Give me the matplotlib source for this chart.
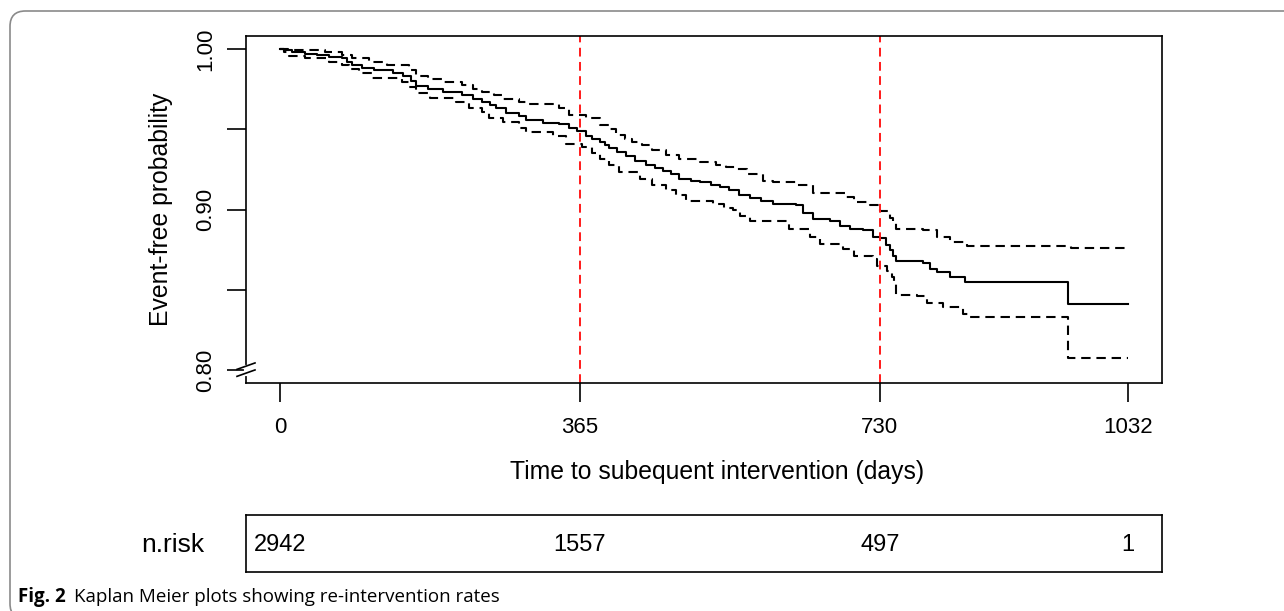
import matplotlib
matplotlib.use("Agg")
import matplotlib.pyplot as plt
from matplotlib.patches import FancyBboxPatch
from matplotlib.transforms import IdentityTransform
from matplotlib.lines import Line2D

# ---------------- data ----------------
surv_t = [0, 5, 15, 30, 45, 60, 75, 82, 88, 100, 115, 137, 150, 160, 166, 180, 198, 222,
          235, 246, 256, 263, 275, 291, 300, 320, 340, 352, 362, 372, 380, 389, 395, 401,
          410, 421, 432, 446, 456, 466, 476, 486, 500, 511, 525, 535, 547, 559, 572, 585,
          600, 628, 636, 649, 669, 682, 694, 710, 722, 730, 737, 742, 746, 750, 783, 791,
          799, 815, 834, 959, 1032]
surv_s = [1.000, 0.999, 0.998, 0.997, 0.996, 0.995, 0.994, 0.992, 0.990, 0.988, 0.987,
          0.985, 0.983, 0.980, 0.977, 0.975, 0.973, 0.971, 0.969, 0.967, 0.965, 0.963,
          0.960, 0.958, 0.956, 0.954, 0.953, 0.951, 0.949, 0.946, 0.944, 0.942, 0.940,
          0.938, 0.936, 0.933, 0.930, 0.928, 0.926, 0.924, 0.922, 0.919, 0.918, 0.917,
          0.915, 0.914, 0.912, 0.909, 0.907, 0.905, 0.9035, 0.9025, 0.898, 0.894, 0.893,
          0.890, 0.888, 0.887, 0.883, 0.882, 0.878, 0.875, 0.871, 0.868, 0.867, 0.863,
          0.861, 0.858, 0.8546, 0.841, 0.841]

upper_t = [0, 10, 30, 55, 75, 88, 108, 130, 157, 165, 180, 198, 222, 235, 246, 260, 271,
           291, 300, 340, 352, 372, 389, 400, 409, 420, 429, 440, 453, 470, 486, 511, 530,
           543, 555, 568, 588, 600, 628, 649, 689, 698, 718, 730, 742, 746, 750, 783, 799,
           815, 836, 962, 1032]
upper_s = [1.000, 0.9995, 0.999, 0.998, 0.996, 0.994, 0.992, 0.990, 0.987, 0.983, 0.981,
           0.9796, 0.9775, 0.975, 0.9733, 0.971, 0.9685, 0.967, 0.9655, 0.963, 0.959,
           0.9567, 0.9525, 0.950, 0.9463, 0.944, 0.942, 0.940, 0.9373, 0.934, 0.9317,
           0.9296, 0.928, 0.9265, 0.925, 0.9223, 0.918, 0.917, 0.915, 0.910, 0.908, 0.9046,
           0.9025, 0.899, 0.895, 0.892, 0.888, 0.887, 0.8827, 0.8796, 0.8775, 0.876, 0.876]

lower_t = [0, 5, 11, 30, 60, 75, 84, 96, 112, 149, 157, 165, 182, 214, 230, 246, 255, 271,
           291, 300, 332, 348, 368, 380, 389, 400, 413, 438, 453, 470, 482, 494, 527, 540,
           551, 560, 572, 620, 645, 657, 685, 698, 722, 727, 739, 745, 747, 750, 775, 787,
           807, 831, 840, 959, 1032]
lower_s = [1.000, 0.998, 0.9956, 0.994, 0.992, 0.990, 0.9873, 0.985, 0.9817, 0.9796,
           0.9765, 0.9723, 0.9692, 0.967, 0.963, 0.961, 0.9567, 0.9546, 0.951, 0.948,
           0.9456, 0.941, 0.939, 0.935, 0.9317, 0.928, 0.9233, 0.9192, 0.915, 0.9119,
           0.909, 0.9056, 0.9035, 0.901, 0.8994, 0.896, 0.893, 0.888, 0.8827, 0.8785,
           0.8754, 0.8713, 0.869, 0.865, 0.8619, 0.858, 0.8556, 0.847, 0.846, 0.842, 0.839,
           0.835, 0.833, 0.8077, 0.8077]

ref_lines = [365, 730]
x_ticks = [0, 365, 730, 1032]
y_ticks = [0.80, 0.85, 0.90, 0.95, 1.00]
y_tick_labels = ["0.80", "", "0.90", "", "1.00"]
risk_times = [0, 365, 730, 1032]
risk_counts = [2942, 1557, 497, 1]

xlabel = "Time to subequent intervention (days)"
ylabel = "Event-free probability"
caption_bold = "Fig. 2"
caption_text = "Kaplan Meier plots showing re-intervention rates"

# ---------------- figure ----------------
W, H = 1284, 611
fig = plt.figure(figsize=(W / 100, H / 100), dpi=100)
fig.patch.set_facecolor("white")
FONT = "Liberation Sans"

def frac_box(l, t, r, b):
    return [l / W, 1 - b / H, (r - l) / W, (b - t) / H]

# outer rounded frame
frame = FancyBboxPatch((10 / W, 1 - 619 / H), (1300 - 10) / W, (619 - 11) / H,
                       boxstyle="round,pad=0,rounding_size=0.012",
                       transform=fig.transFigure, fill=False,
                       edgecolor="#8a8a8a", linewidth=1.2, mutation_aspect=W / H)
fig.patches.append(frame)

ax = fig.add_axes(frac_box(246, 36, 1162, 383))
xmin, xmax = -0.04 * 1032, 1032 * 1.04
ax.set_xlim(xmin, xmax)
ax.set_ylim(0.792, 1.008)

ax.step(surv_t, surv_s, where="post", color="black", lw=1.5)
ax.step(upper_t, upper_s, where="post", color="black", lw=1.5, ls=(0, (4.5, 2.8)))
ax.step(lower_t, lower_s, where="post", color="black", lw=1.5, ls=(0, (4.5, 2.8)))
for v in ref_lines:
    ax.axvline(v, color="#ff1a1a", lw=1.4, ls=(0, (4.5, 2.8)))

for s in ax.spines.values():
    s.set_linewidth(1.2)
    s.set_color("black")

ax.set_xticks(x_ticks)
ax.set_xticklabels([str(t) for t in x_ticks])
ax.set_yticks(y_ticks)
ax.set_yticklabels(y_tick_labels, rotation=90, va="center")
ax.tick_params(axis="both", direction="out", length=13.5, width=1.2, labelsize=16)
ax.tick_params(axis="x", pad=11)
ax.tick_params(axis="y", pad=8)
for lab in ax.get_xticklabels() + ax.get_yticklabels():
    lab.set_fontfamily(FONT)

ax.set_xlabel(xlabel, fontsize=17.8, fontfamily=FONT)
ax.xaxis.set_label_coords((717 - 246) / 916, -0.222)
ax.set_ylabel(ylabel, fontsize=17.8, fontfamily=FONT, labelpad=16)

# axis break marks on y axis near 0.80
fig.canvas.draw()
x0, y0 = ax.transData.transform((xmin, 0.80))
white = Line2D([x0, x0], [y0 - 4.0, y0 + 3.0], transform=IdentityTransform(),
               color="white", lw=3, clip_on=False, zorder=5)
fig.add_artist(white)
for dy in (4.0, -3.0):
    ln = Line2D([x0 - 9, x0 + 9], [y0 + dy - 3.2, y0 + dy + 3.2],
                transform=IdentityTransform(), color="black", lw=1.2,
                clip_on=False, zorder=6)
    fig.add_artist(ln)

# risk table
rax = fig.add_axes(frac_box(246, 515, 1162, 572))
rax.set_xlim(xmin, xmax)
rax.set_ylim(0, 1)
rax.set_xticks([])
rax.set_yticks([])
for s in rax.spines.values():
    s.set_linewidth(1.2)
for t, n in zip(risk_times, risk_counts):
    rax.text(t, 0.48, str(n), ha="center", va="center", fontsize=17, fontfamily=FONT)
rax.text(-0.045, 0.48, "n.risk", transform=rax.transAxes, ha="right", va="center",
         fontsize=19, fontfamily=FONT)

# caption
r = fig.canvas.get_renderer()
tb = fig.text(18 / W, 1 - 597 / H, caption_bold, fontsize=13.5, fontweight="bold",
              fontfamily="Open Sans", va="center", ha="left")
bb = tb.get_window_extent(renderer=r)
fig.text((bb.x1 + 8) / W, 1 - 597 / H, caption_text, fontsize=13.5,
         fontfamily="Open Sans", va="center", ha="left")

fig.savefig("out.png", dpi=100)
